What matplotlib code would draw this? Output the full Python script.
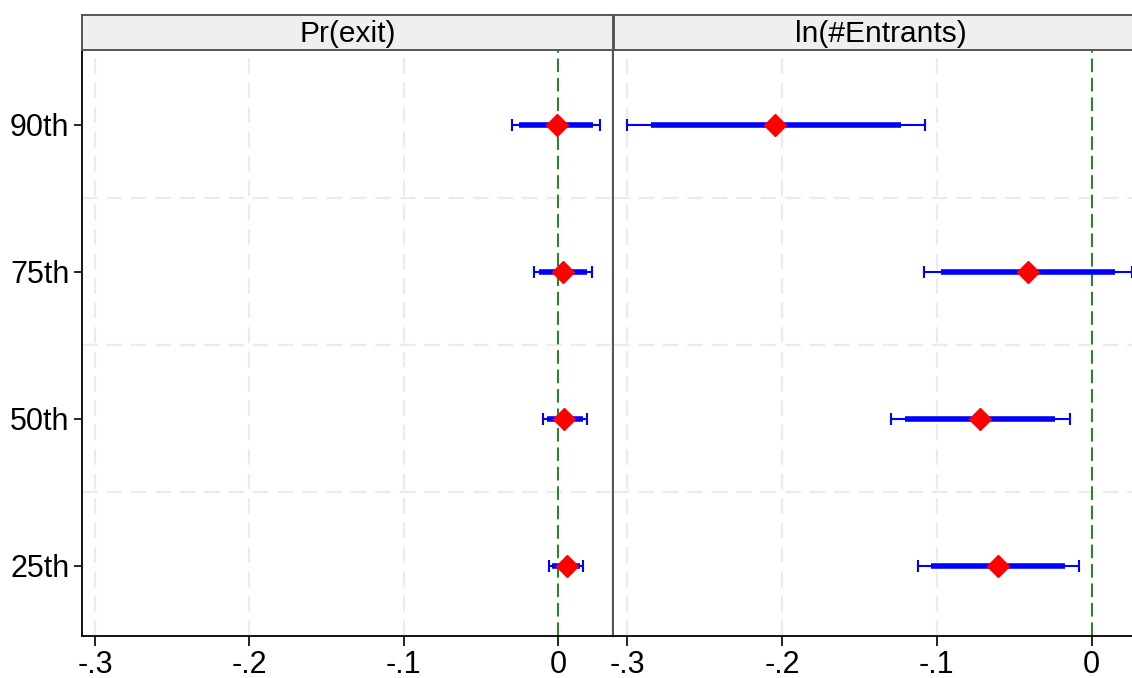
import numpy as np
import matplotlib
matplotlib.use("Agg")
import matplotlib.pyplot as plt

plt.rcParams['font.family'] = ['Liberation Sans', 'DejaVu Sans']

# percentile rows, bottom to top
rows = ["25th", "50th", "75th", "90th"]
panels = ["Pr(exit)", "ln(#Entrants)"]

# Pr(exit): point estimate, 90% and 95% intervals
exit_pt = [0.0056, 0.0041, 0.0030, -0.0006]
exit_lo90 = [-0.0040, -0.0073, -0.0123, -0.0253]
exit_hi90 = [0.0140, 0.0164, 0.0186, 0.0227]
exit_lo95 = [-0.0056, -0.0095, -0.0156, -0.0299]
exit_hi95 = [0.0164, 0.0186, 0.0219, 0.0273]

# ln(#Entrants)
ent_pt = [-0.0606, -0.0718, -0.0412, -0.2042]
ent_lo90 = [-0.1036, -0.1203, -0.0976, -0.2847]
ent_hi90 = [-0.0170, -0.0235, 0.0150, -0.1231]
ent_lo95 = [-0.1123, -0.1295, -0.1084, -0.3000]
ent_hi95 = [-0.0084, -0.0138, 0.0260, -0.1073]

xticks = [-0.3, -0.2, -0.1, 0.0]
xlabels = ["-.3", "-.2", "-.1", "0"]

W, H = 1132, 678
fig = plt.figure(figsize=(W / 100, H / 100), dpi=100)

def box(x0, y0, x1, y1):
    # pixel box (top-left origin) -> figure fraction
    return [x0 / W, 1 - y1 / H, (x1 - x0) / W, (y1 - y0) / H]

data = [
    (exit_pt, exit_lo90, exit_hi90, exit_lo95, exit_hi95),
    (ent_pt, ent_lo90, ent_hi90, ent_lo95, ent_hi95),
]
xs = [(82, 613), (614, 1147)]
y = np.arange(1, len(rows) + 1)

for i, (title, d) in enumerate(zip(panels, data)):
    x0, x1 = xs[i]
    ax = fig.add_axes(box(x0, 50, x1, 636))
    pt, lo90, hi90, lo95, hi95 = d
    ax.set_xlim(-0.3084, 0.0357)
    ax.set_ylim(0.52, 4.51)

    for xv in xticks[:-1]:
        ax.axvline(xv, color="#ebebeb", lw=1.6, ls=(0, (7, 4)), zorder=0)
    for yv in [1.5, 2.5, 3.5]:
        ax.axhline(yv, color="#ebebeb", lw=1.6, ls=(0, (7, 4)), zorder=0)
    ax.axvline(0, color="#1a8a1a", lw=1.4, ls=(0, (7, 3)), zorder=1)

    ax.errorbar(pt, y, xerr=[np.subtract(pt, lo95), np.subtract(hi95, pt)],
                fmt="none", ecolor="blue", elinewidth=1.5, capsize=4,
                capthick=1.5, zorder=2)
    ax.hlines(y, lo90, hi90, color="blue", lw=4.0, zorder=3)
    ax.plot(pt, y, "D", color="red", markersize=11.5, mec="red", zorder=4)

    ax.set_xticks(xticks)
    ax.set_xticklabels(xlabels)
    ax.tick_params(axis="x", length=7, width=1.2, labelsize=22, pad=3)
    ax.spines["top"].set_visible(False)
    ax.spines["bottom"].set_linewidth(1.3)
    if i == 0:
        ax.set_yticks(y)
        ax.set_yticklabels(rows)
        ax.tick_params(axis="y", length=6, width=1.2, labelsize=22, pad=3)
        ax.spines["left"].set_linewidth(1.3)
        ax.spines["right"].set_color("#555555")
        ax.spines["right"].set_linewidth(1.6)
    else:
        ax.set_yticks([])
        ax.spines["left"].set_visible(False)
        ax.spines["right"].set_visible(False)

    sx = fig.add_axes(box(x0, 15, x1, 50))
    sx.set_facecolor("#efefef")
    sx.set_xticks([])
    sx.set_yticks([])
    for s in sx.spines.values():
        s.set_color("#555555")
        s.set_linewidth(1.4)
    sx.text(0.5, 0.47, title, ha="center", va="center", fontsize=21.5,
            transform=sx.transAxes)

fig.savefig("out.png", dpi=100)
